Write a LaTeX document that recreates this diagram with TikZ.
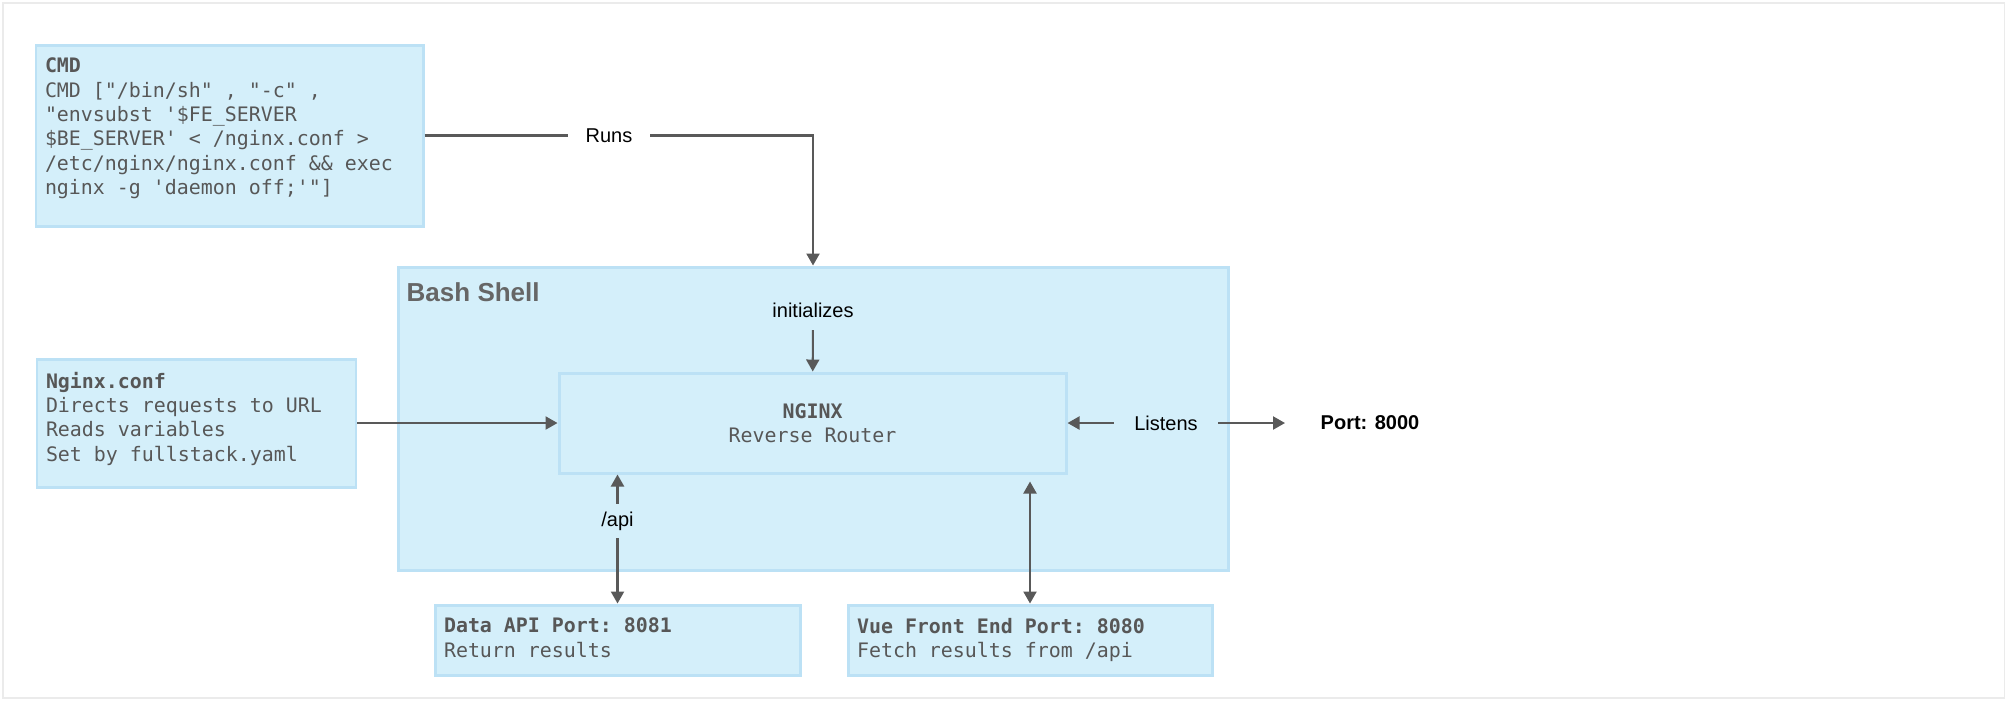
\documentclass[tikz,border=0pt]{standalone}
\usepackage{fontspec}
\setmainfont{Liberation Sans}
\setmonofont{DejaVu Sans Mono}
\usetikzlibrary{arrows.meta}
\definecolor{boxfill}{HTML}{D4EFFA}
\definecolor{boxline}{HTML}{BCE1F5}
\definecolor{arrowgray}{HTML}{595959}
\definecolor{textgray}{HTML}{575757}
\definecolor{titlegray}{HTML}{666666}
\definecolor{framegray}{HTML}{EBEBEB}
\newcommand{\cardtext}[3]{\parbox[c][#2][t]{#1}{#3}}

\begin{document}
\begin{tikzpicture}[
  >={Triangle[length=0.12cm,width=0.13cm]},
  card/.style={draw=boxline, fill=boxfill, line width=0.85pt, inner xsep=0.09cm, inner ysep=0.13cm,
    text=textgray, font=\ttfamily\fontsize{5.67pt}{6.94pt}\selectfont},
  flow/.style={draw=arrowgray, line width=0.6pt},
  tag/.style={font=\fontsize{5.69pt}{6.9pt}\selectfont, inner xsep=0.08cm, inner ysep=0.07cm}
]
\useasboundingbox (0,0) rectangle (20.07,-7.01);
\draw[framegray, line width=0.3pt] (0.03,-0.03) rectangle (20.04,-6.98);

\draw (8.13cm,-4.185cm) node (bash) [card, minimum width=8.30cm, minimum height=3.03cm] {};
\draw (4.06cm,-2.92cm) node (bashtitle) [anchor=west, inner sep=0pt, text=titlegray,
  font=\bfseries\fontsize{7.4pt}{8.9pt}\selectfont] {Bash Shell};

\draw (8.125cm,-4.23cm) node (nginx) [card, minimum width=5.07cm, minimum height=1.00cm, align=center]
  {\textbf{NGINX}\\Reverse Router};

\draw (2.295cm,-1.355cm) node (cmd) [card] {\cardtext{3.69cm}{1.55cm}{\textbf{CMD}\\CMD ["/bin/sh" , "-c" ,\\"envsubst '\$FE\_SERVER\\\$BE\_SERVER' < /nginx.conf >\\/etc/nginx/nginx.conf \&\& exec\\nginx -g 'daemon off;'"]}};

\draw (1.965cm,-4.23cm) node (conf) [card] {\cardtext{3.01cm}{1.02cm}{\textbf{Nginx.conf}\\Directs requests to URL\\Reads variables\\Set by fullstack.yaml}};

\draw (6.175cm,-6.40cm) node (dataapi) [card] {\cardtext{3.47cm}{0.44cm}{\textbf{Data API Port: 8081}\\Return results}};
\draw (10.30cm,-6.40cm) node (vue) [card] {\cardtext{3.46cm}{0.44cm}{\textbf{Vue Front End Port: 8080}\\Fetch results from /api}};

\draw (6.09cm,-1.355cm) node (runs) [tag, inner xsep=0.17cm] {Runs};
\draw (8.13cm,-3.10cm) node (init) [tag, inner ysep=0.12cm] {initializes};
\draw (11.66cm,-4.23cm) node (listens) [tag, inner xsep=0.2cm] {Listens};
\draw (13.70cm,-4.23cm) node (port) [tag, inner xsep=0.35cm, font=\bfseries\fontsize{5.69pt}{6.9pt}\selectfont] {Port: 8000};
\draw (6.175cm,-5.21cm) node (api) [tag] {/api};

\draw[flow] (cmd) -- (runs);
\draw[flow, ->] (runs) -| (bash);
\draw[flow, ->] (init) -- (nginx);
\draw[flow, ->] (conf) -- (nginx);
\draw[flow, ->] (listens) -- (nginx);
\draw[flow, ->] (listens) -- (port);
\draw[flow, ->] (api) -- (api |- nginx.south);
\draw[flow, ->] (api) -- (dataapi);
\draw[flow, <->] (vue) -- ([yshift=-0.07cm]vue |- nginx.south);
\end{tikzpicture}
\end{document}
